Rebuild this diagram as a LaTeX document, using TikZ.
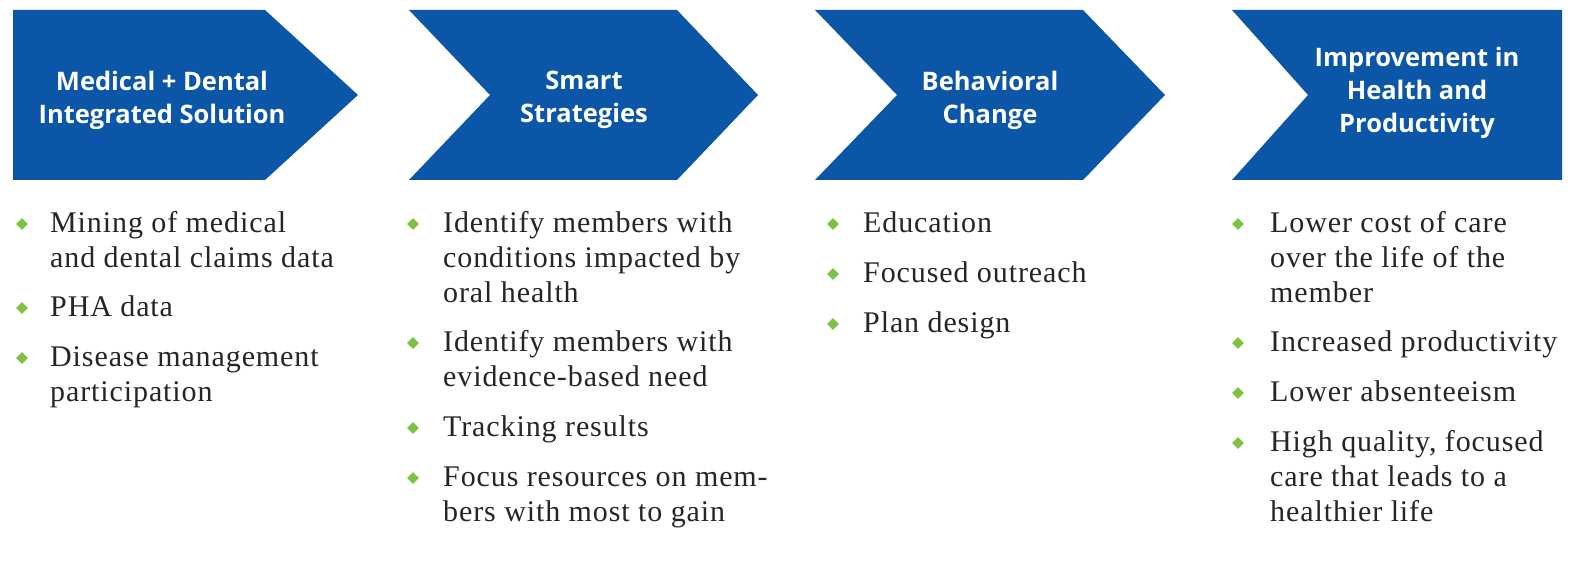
\documentclass[tikz,border=0pt]{standalone}
\usepackage{fontspec}
\setmainfont{Liberation Serif}[LetterSpace=3]
\newfontfamily\hdrfont{Open Sans}
\usetikzlibrary{shapes.geometric}
\definecolor{chevblue}{HTML}{0B56A6}
\definecolor{bulletgreen}{HTML}{7DC242}
\newcommand{\fl}{\rule{0pt}{21.5pt}}
\begin{document}
\begin{tikzpicture}[x=1pt,y=-1pt,
  chev/.style={fill=chevblue,draw=none},
  hdr/.style={text=white,font=\hdrfont\bfseries\fontsize{25.5}{33}\selectfont,align=center,inner sep=0pt},
  item/.style={anchor=north west,font=\fontsize{30}{35}\selectfont,align=left,inner sep=0pt,text=black!85},
  bul/.style={diamond,fill=bulletgreen,draw=none,inner sep=0pt,minimum width=12pt,minimum height=12pt}]
\useasboundingbox[fill=white] (0,0) rectangle (1571,585);
% chevrons
\path[chev] (13,10) -- (265,10) -- (358,95) -- (265,180) -- (13,180) -- cycle;
\path[chev] (409,10) -- (677,10) -- (758,95) -- (677,180) -- (409,180) -- (490,95) -- cycle;
\path[chev] (815,10) -- (1083,10) -- (1165,95) -- (1083,180) -- (815,180) -- (897,95) -- cycle;
\path[chev] (1232,10) -- (1562,10) -- (1562,180) -- (1232,180) -- (1308,95) -- cycle;
% headers
\node[hdr] (h1) at (162,100) {Medical + Dental\\Integrated Solution};
\node[hdr] (h2) at (584,100) {Smart\\Strategies};
\node[hdr] (h3) at (990,100) {Behavioral\\Change};
\node[hdr] (h4) at (1417,93) {Improvement in\\Health and\\Productivity};
% column 1
\node[bul] (b11) at (22,224) {};
\node[item] (t11) at (50,210.5) {\fl Mining of medical\\and dental claims data};
\node[bul] (b12) at (22,308) {};
\node[item] (t12) at (50,294.5) {\fl PHA data};
\node[bul] (b13) at (22,358) {};
\node[item] (t13) at (50,344.5) {\fl Disease management\\participation};
% column 2
\node[bul] (b21) at (413,224) {};
\node[item] (t21) at (443,210.5) {\fl Identify members with\\conditions impacted by\\oral health};
\node[bul] (b22) at (413,343) {};
\node[item] (t22) at (443,329.5) {\fl Identify members with\\evidence-based need};
\node[bul] (b23) at (413,428) {};
\node[item] (t23) at (443,414.5) {\fl Tracking results};
\node[bul] (b24) at (413,478) {};
\node[item] (t24) at (443,464.5) {\fl Focus resources on mem-\\bers with most to gain};
% column 3
\node[bul] (b31) at (833,224) {};
\node[item] (t31) at (863,210.5) {\fl Education};
\node[bul] (b32) at (833,274) {};
\node[item] (t32) at (863,260.5) {\fl Focused outreach};
\node[bul] (b33) at (833,324) {};
\node[item] (t33) at (863,310.5) {\fl Plan design};
% column 4
\node[bul] (b41) at (1238,224) {};
\node[item] (t41) at (1270,210.5) {\fl Lower cost of care\\over the life of the\\member};
\node[bul] (b42) at (1238,343) {};
\node[item] (t42) at (1270,329.5) {\fl Increased productivity};
\node[bul] (b43) at (1238,393) {};
\node[item] (t43) at (1270,379.5) {\fl Lower absenteeism};
\node[bul] (b44) at (1238,443) {};
\node[item] (t44) at (1270,429.5) {\fl High quality, focused\\care that leads to a\\healthier life};
\end{tikzpicture}
\end{document}
